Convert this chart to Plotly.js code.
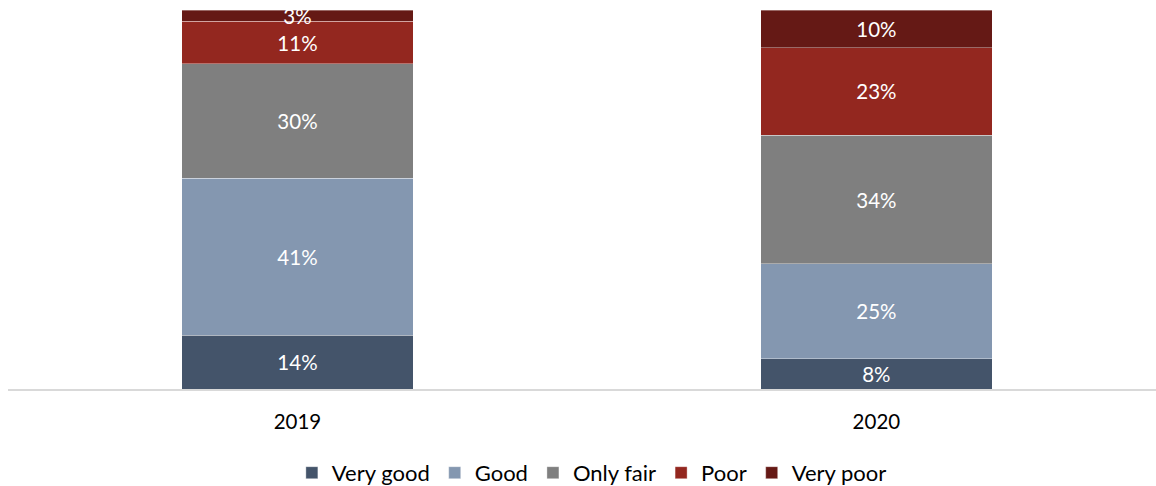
<!DOCTYPE html>
<html>
<head>
<meta charset="utf-8">
<script src="https://cdn.plot.ly/plotly-3.0.1.min.js"></script>
<style>
  html, body { margin: 0; padding: 0; background: #ffffff; }
  #chart { width: 1156px; height: 486px; }
</style>
</head>
<body>
<div id="chart"></div>
<script>
// Survey years on the category axis
const years = ['2019', '2020'];

// Share of responses per rating, in percent
const veryGood = [14, 8];
const good = [41, 25];
const onlyFair = [30, 34];
const poor = [11, 23];
const veryPoor = [3, 10];

const seriesNames = ['Very good', 'Good', 'Only fair', 'Poor', 'Very poor'];
const seriesValues = [veryGood, good, onlyFair, poor, veryPoor];
const seriesColors = ['#44546A', '#8497B0', '#7F7F7F', '#93271F', '#651915'];

const FONT = 'Lato, "Open Sans", sans-serif';
const LABEL_SIZE = 20.5;
const LEGEND_SIZE = 22;

const traces = seriesNames.map((name, i) => ({
  type: 'bar',
  name: name,
  x: years,
  y: seriesValues[i],
  text: seriesValues[i].map(v => v + '%'),
  textposition: 'inside',
  insidetextanchor: 'middle',
  textangle: 0,
  constraintext: 'none',
  cliponaxis: false,
  textfont: { family: FONT, size: LABEL_SIZE, color: '#ffffff' },
  marker: {
    color: seriesColors[i],
    line: { color: 'rgba(255,255,255,0.35)', width: 1 }
  },
  hoverinfo: 'skip'
}));

const layout = {
  width: 1156,
  height: 486,
  margin: { l: 8, r: 0, t: 10, b: 97 },
  paper_bgcolor: '#ffffff',
  plot_bgcolor: '#ffffff',
  barmode: 'stack',
  barnorm: 'percent',
  bargap: 0.6,
  font: { family: FONT, size: LABEL_SIZE, color: '#000000' },
  uniformtext: { mode: 'show', minsize: LABEL_SIZE },
  xaxis: {
    type: 'category',
    range: [-0.5, 1.483],
    showline: true,
    linecolor: '#D9D9D9',
    linewidth: 2,
    ticks: '',
    showgrid: false,
    zeroline: false,
    ticklabelstandoff: 13,
    tickfont: { family: FONT, size: LABEL_SIZE, color: '#000000' },
    fixedrange: true
  },
  yaxis: {
    range: [0, 100],
    visible: false,
    showgrid: false,
    zeroline: false,
    fixedrange: true
  },
  showlegend: true,
  legend: {
    orientation: 'h',
    traceorder: 'normal',
    x: 0.512,
    xanchor: 'center',
    xref: 'container',
    y: 0.027,
    yanchor: 'middle',
    yref: 'container',
    font: { family: FONT, size: LEGEND_SIZE, color: '#000000' },
    itemwidth: 30,
    bgcolor: 'rgba(0,0,0,0)'
  }
};

Plotly.newPlot('chart', traces, layout, { displayModeBar: false, staticPlot: true });
</script>
</body>
</html>
